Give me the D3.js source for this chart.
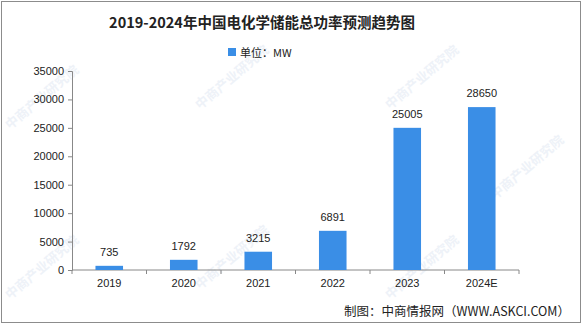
<!DOCTYPE html>
<html><head><meta charset="utf-8">
<script src="https://cdn.jsdelivr.net/npm/d3@7"></script>
<style>body{margin:0;background:#fff}svg{display:block}</style>
</head><body>
<script>
const categories = ["2019","2020","2021","2022","2023","2024E"];
const values = [735,1792,3215,6891,25005,28650];
const yTicks = [0,5000,10000,15000,20000,25000,30000,35000];
const titleText = "2019-2024年中国电化学储能总功率预测趋势图";
const legendText = "单位：MW";
const sourceText = "制图：中商情报网（WWW.ASKCI.COM）";

const W=587,H=327;
const svg=d3.select("body").append("svg").attr("width",W).attr("height",H);
svg.append("rect").attr("x",1.5).attr("y",1.5).attr("width",579).attr("height",321)
  .attr("fill","#fff").attr("stroke","#8c8c8c").attr("stroke-width",1);

// watermark
const wm = svg.append("g").attr("fill","#eef2f8").attr("font-family","Noto Sans CJK SC").attr("font-size",13).attr("font-weight","bold");
const wmPos=[[10,130],[10,300],[200,110],[200,290],[390,110],[390,300],[495,200]];
wmPos.forEach(p=>wm.append("text").attr("transform",`translate(${p[0]},${p[1]}) rotate(-40)`).text("中商产业研究院"));

const x=d3.scaleBand().domain(categories).range([72,519]).paddingInner(0.63).paddingOuter(0.315);
const y=d3.scaleLinear().domain([0,35000]).range([270,71]);

svg.append("text").attr("x",262).attr("y",28).attr("text-anchor","middle")
  .attr("font-family","Noto Sans CJK SC").attr("font-weight","bold").attr("font-size",14.5).attr("fill","#222").text(titleText);

svg.append("rect").attr("x",228).attr("y",48).attr("width",8).attr("height",8).attr("fill","#3a8ee6");
svg.append("text").attr("x",240).attr("y",56.5).attr("font-family","Noto Sans CJK SC").attr("font-size",11).attr("fill","#222").text(legendText);

const yAxis=svg.append("g").attr("transform","translate(72,0)")
  .call(d3.axisLeft(y).tickValues(yTicks).tickSize(4).tickPadding(4).tickFormat(d3.format("d")));
const xAxis=svg.append("g").attr("transform","translate(0,270)")
  .call(d3.axisBottom(x).tickSize(0).tickPadding(9));
xAxis.selectAll(".tick line").remove();
const step=x.step();
xAxis.selectAll(".bnd").data(d3.range(categories.length+1)).enter().append("line")
  .attr("x1",(d,i)=>72+i*step).attr("x2",(d,i)=>72+i*step).attr("y1",0).attr("y2",4).attr("stroke","#888");
[yAxis,xAxis].forEach(a=>{
  a.select(".domain").attr("stroke","#888");
  a.selectAll("line").attr("stroke","#888");
  a.selectAll("text").attr("font-family","Liberation Sans, Arial").attr("font-size",11).attr("fill","#222");
});
xAxis.select(".domain").attr("d","M72,0H519");

svg.selectAll(".bar").data(values).enter().append("rect")
  .attr("x",(d,i)=>x(categories[i])).attr("width",x.bandwidth())
  .attr("y",d=>y(d)).attr("height",d=>270-y(d)).attr("fill","#3a8ee6");
svg.selectAll(".lbl").data(values).enter().append("text")
  .attr("x",(d,i)=>x(categories[i])+x.bandwidth()/2).attr("y",d=>y(d)-10)
  .attr("text-anchor","middle").attr("font-family","Liberation Sans, Arial").attr("font-size",11).attr("fill","#222")
  .text(d=>d);

svg.append("text").attr("x",570).attr("y",316).attr("text-anchor","end")
  .attr("font-family","Noto Sans CJK SC").attr("font-size",12.5).attr("fill","#222").text(sourceText);
</script>
</body></html>
